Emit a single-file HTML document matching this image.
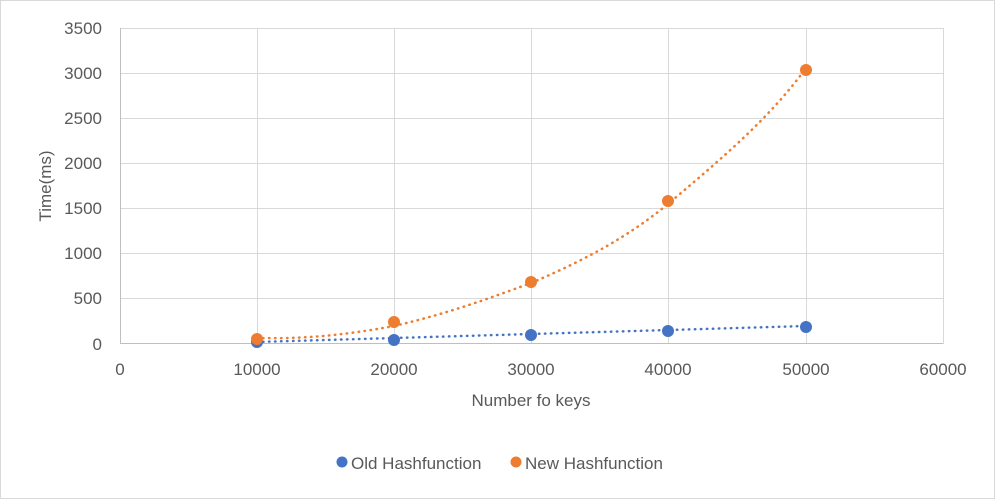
<!DOCTYPE html>
<html><head><meta charset="utf-8"><style>
body{margin:0;background:#fff}
svg text{font-family:"Liberation Sans",sans-serif;fill:#595959}
</style></head><body>
<svg width="995" height="499" viewBox="0 0 995 499" xmlns="http://www.w3.org/2000/svg">
<rect x="0.5" y="0.5" width="994" height="498" fill="#fff" stroke="#d9d9d9"/>
<g stroke="#d9d9d9" stroke-width="1">
<line x1="120" y1="28.5" x2="943" y2="28.5"/>
<line x1="120" y1="73.5" x2="943" y2="73.5"/>
<line x1="120" y1="118.5" x2="943" y2="118.5"/>
<line x1="120" y1="163.5" x2="943" y2="163.5"/>
<line x1="120" y1="208.5" x2="943" y2="208.5"/>
<line x1="120" y1="253.5" x2="943" y2="253.5"/>
<line x1="120" y1="298.5" x2="943" y2="298.5"/>
<line x1="257.5" y1="28" x2="257.5" y2="344"/>
<line x1="394.5" y1="28" x2="394.5" y2="344"/>
<line x1="531.5" y1="28" x2="531.5" y2="344"/>
<line x1="668.5" y1="28" x2="668.5" y2="344"/>
<line x1="806.5" y1="28" x2="806.5" y2="344"/>
<line x1="943.5" y1="28" x2="943.5" y2="344"/>
</g>
<line x1="120.5" y1="28" x2="120.5" y2="344" stroke="#bfbfbf"/>
<line x1="120" y1="343.5" x2="943" y2="343.5" stroke="#bfbfbf"/>
<g font-size="17" text-anchor="end">
<text x="102" y="34">3500</text><text x="102" y="79">3000</text><text x="102" y="124">2500</text>
<text x="102" y="169">2000</text><text x="102" y="214">1500</text><text x="102" y="259">1000</text>
<text x="102" y="304">500</text><text x="102" y="350">0</text>
</g>
<g font-size="17" text-anchor="middle">
<text x="120" y="375">0</text><text x="257" y="375">10000</text><text x="394" y="375">20000</text>
<text x="531" y="375">30000</text><text x="668" y="375">40000</text><text x="806" y="375">50000</text><text x="943" y="375">60000</text>
<text x="531" y="406" font-size="17">Number fo keys</text>
</g>
<text transform="translate(51,186) rotate(-90)" font-size="17" text-anchor="middle">Time(ms)</text>
<path d="M257,342 L806,326" stroke="#4472c4" stroke-width="2.5" stroke-dasharray="0.5,5.5" fill="none" stroke-linecap="round"/>
<path d="M257,338 C300,339 340,336 394,326 C450,313 490,298 531,283 C590,258 630,235 668,204 C720,160 770,118 806,68" stroke="#ed7d31" stroke-width="2.5" stroke-dasharray="0.5,5.5" fill="none" stroke-linecap="round"/>
<g fill="#4472c4">
<circle cx="257" cy="342" r="6"/><circle cx="394" cy="340" r="6"/><circle cx="531" cy="335" r="6"/><circle cx="668" cy="331" r="6"/><circle cx="806" cy="327" r="6"/>
</g>
<g fill="#ed7d31">
<circle cx="257" cy="339" r="6"/><circle cx="394" cy="322" r="6"/><circle cx="531" cy="282" r="6"/><circle cx="668" cy="201" r="6"/><circle cx="806" cy="70" r="6"/>
</g>
<circle cx="342" cy="462" r="5.5" fill="#4472c4"/>
<text x="351" y="469" font-size="17">Old Hashfunction</text>
<circle cx="516" cy="462" r="5.5" fill="#ed7d31"/>
<text x="525" y="469" font-size="17">New Hashfunction</text>
</svg>
</body></html>
